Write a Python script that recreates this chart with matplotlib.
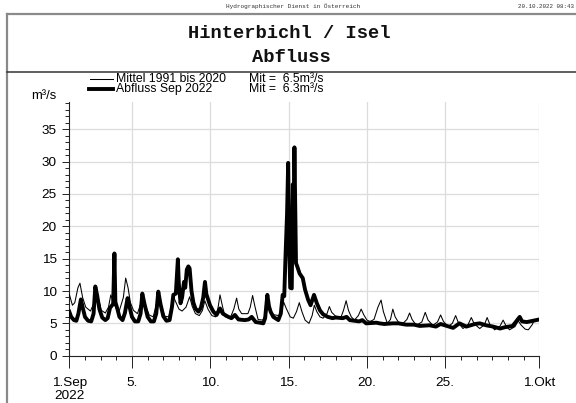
import matplotlib
matplotlib.use("Agg")
import matplotlib.pyplot as plt
from matplotlib.lines import Line2D
from matplotlib.ticker import FixedLocator, MultipleLocator

# ---------------- data (t = days since 1 Sep 2022 00:00) ----------------
mittel_t = [0.0, 0.2, 0.35, 0.55, 0.68, 0.85, 1.05, 1.35, 1.55, 1.7, 1.85, 2.05, 2.3, 2.5,
            2.65, 2.8, 3.0, 3.2, 3.45, 3.6, 3.75, 3.9, 4.1, 4.35, 4.55, 4.68, 4.85, 5.1,
            5.35, 5.55, 5.68, 5.85, 6.1, 6.35, 6.5, 6.65, 6.8, 7.0, 7.2, 7.45, 7.68, 7.85,
            8.05, 8.3, 8.5, 8.65, 8.85, 9.1, 9.35, 9.5, 9.62, 9.78, 9.95, 10.3, 10.5, 10.68,
            10.82, 11.0, 11.4, 11.55, 11.7, 11.85, 12.05, 12.35, 12.55, 12.7, 12.85, 13.1,
            13.4, 13.55, 13.68, 13.85, 14.1, 14.3, 14.5, 14.68, 14.85, 15.05, 15.3, 15.5,
            15.64, 15.8, 16.0, 16.2, 16.45, 16.6, 16.75, 17.0, 17.35, 17.5, 17.67, 17.82,
            18.0, 18.2, 18.45, 18.63, 18.8, 19.0, 19.2, 19.45, 19.7, 19.9, 20.05, 20.3, 20.5,
            20.65, 20.8, 21.0, 21.3, 21.55, 21.72, 21.88, 22.15, 22.5, 22.72, 22.9, 23.2,
            23.5, 23.7, 23.88, 24.17, 24.45, 24.66, 24.85, 25.13, 25.45, 25.66, 25.85, 26.2,
            26.5, 26.67, 26.85, 27.15, 27.5, 27.69, 27.88, 28.1, 28.45, 28.65, 28.85, 29.1,
            29.3, 29.55, 29.7, 30.0]
mittel_q = [9.5, 7.8, 8.2, 10.5, 11.2, 9.0, 7.5, 6.9, 8.0, 9.8, 8.9, 7.0, 6.6, 7.5,
            9.4, 8.3, 7.3, 7.0, 9.0, 12.0, 10.5, 8.2, 7.0, 6.5, 8.0, 9.5, 7.8, 6.3,
            6.0, 7.8, 9.7, 7.8, 6.1, 6.0, 7.5, 9.1, 8.3, 7.2, 6.9, 7.5, 9.1, 7.6,
            6.5, 6.2, 7.0, 8.5, 7.2, 6.2, 6.0, 7.5, 9.4, 7.6, 6.0, 6.0, 7.2, 8.9,
            7.2, 6.5, 6.5, 7.5, 9.3, 7.6, 5.6, 5.5, 6.5, 7.6, 6.6, 6.3,
            6.2, 7.0, 8.3, 7.3, 6.0, 5.8, 6.8, 8.2, 6.8, 5.5, 5.0, 6.2,
            7.8, 6.8, 6.0, 5.8, 6.5, 7.6, 6.7, 6.1, 6.0, 7.0, 8.5, 7.0,
            6.0, 5.5, 6.2, 7.2, 6.3, 5.5, 5.3, 5.6, 7.5, 8.6, 6.8, 5.0, 5.6,
            7.2, 6.0, 5.2, 5.0, 5.6, 6.6, 5.6, 4.7, 5.2, 6.7, 5.5, 4.7,
            5.2, 6.3, 5.3, 4.5, 5.0, 6.2, 5.0, 4.2, 4.8, 5.9, 4.9, 4.2,
            4.8, 5.9, 4.8, 4.0, 4.6, 5.5, 4.6, 4.0, 4.5, 5.4, 4.7, 4.1,
            4.0, 4.8, 5.6, 5.5]

abfluss_t = [0.0, 0.12, 0.3, 0.45, 0.58, 0.74, 0.85, 1.0, 1.2, 1.4, 1.55, 1.66, 1.78, 1.92,
             2.1, 2.3, 2.45, 2.6, 2.8, 2.88, 2.94, 3.05, 3.2, 3.4, 3.55, 3.72, 3.85, 4.0,
             4.19, 4.4, 4.55, 4.66, 4.8, 5.0, 5.2, 5.4, 5.55, 5.68, 5.82, 6.0, 6.2, 6.4,
             6.55, 6.64, 6.8, 6.93, 6.99, 7.1, 7.2, 7.32, 7.4, 7.5, 7.6, 7.68, 7.8, 7.92,
             8.05, 8.24, 8.4, 8.55, 8.66, 8.75, 8.98, 9.2, 9.4, 9.62, 9.8, 10.15, 10.35,
             10.57, 10.8, 11.2, 11.45, 11.64, 11.9, 12.17, 12.38, 12.5, 12.64, 12.75, 12.85,
             13.02, 13.34, 13.5, 13.62, 13.72, 13.8, 13.9, 13.97, 14.03, 14.1, 14.2, 14.27,
             14.31, 14.37, 14.42, 14.47, 14.55, 14.7, 14.9, 15.05, 15.25, 15.4, 15.62, 15.8,
             16.0, 16.2, 16.5, 16.8, 17.0, 17.45, 17.7, 17.9, 18.5, 18.7, 18.95, 19.6, 19.8,
             20.1, 20.65, 21.0, 21.5, 22.0, 22.36, 23.0, 23.4, 23.7, 24.5, 24.9, 25.34,
             25.9, 26.2, 26.6, 27.05, 27.5, 27.8, 28.3, 28.75, 28.9, 29.2, 30.0]
abfluss_q = [6.8, 6.0, 5.5, 5.4, 6.5, 8.7, 7.5, 6.0, 5.4, 5.3, 6.5, 10.7, 9.3, 7.2,
             5.9, 5.5, 5.8, 7.4, 8.0, 15.8, 8.3, 7.4, 6.0, 5.5, 6.6, 8.9, 7.5, 6.0,
             5.3, 5.3, 6.5, 9.6, 8.0, 6.0, 5.3, 5.3, 6.5, 9.9, 8.0, 6.1, 5.4, 5.5,
             7.5, 9.4, 9.6, 14.9, 11.2, 8.1, 9.0, 11.4, 10.5, 13.3, 13.8, 13.5, 10.0, 8.2,
             7.3, 6.8, 7.4, 9.0, 11.4, 9.5, 7.8, 6.8, 6.3, 7.3, 6.5, 6.0, 5.8,
             6.3, 5.6, 5.5, 5.6, 6.0, 5.2, 5.1, 5.0, 5.8, 9.4, 7.6, 6.8,
             6.0, 5.5, 6.5, 9.4, 9.2, 15.3, 22.0, 29.8, 17.9, 10.5, 10.4, 26.5,
             18.0, 32.2, 23.6, 14.3, 13.8, 12.7, 12.0, 10.2, 8.6, 7.8, 9.4, 8.1,
             7.0, 6.4, 6.0, 5.8, 5.9, 5.8, 6.0, 5.5, 5.3, 5.5, 5.0, 5.1, 5.0,
             4.9, 5.0, 5.0, 4.8, 4.8, 4.6, 4.7, 4.5, 4.9, 4.3, 5.0, 4.5,
             4.9, 5.0, 4.7, 4.5, 4.2, 4.4, 4.6, 6.0, 5.3, 5.2, 5.6]

x_tick_pos = [0, 4, 9, 14, 19, 24, 30]
x_tick_labels = ["1.Sep\n2022", "5.", "10.", "15.", "20.", "25.", "1.Okt"]
y_ticks = [0, 5, 10, 15, 20, 25, 30, 35]

# ---------------- figure ----------------
W, H = 576, 403
fig = plt.figure(figsize=(W / 100, H / 100), dpi=100)
SANS = "Liberation Sans"
MONO = "Liberation Mono"


def fx(x):
    return x / W


def fy(y):
    return 1 - y / H


# outer frame
fig.add_artist(Line2D([fx(6.5), fx(6.5)], [fy(14), fy(403)], transform=fig.transFigure,
                      color="#8a8a8a", lw=1.6))
fig.add_artist(Line2D([fx(6.5), fx(580)], [fy(14), fy(14)], transform=fig.transFigure,
                      color="#8a8a8a", lw=1.6))
fig.add_artist(Line2D([fx(6.5), fx(580)], [fy(71.5), fy(71.5)], transform=fig.transFigure,
                      color="#333333", lw=1.1))

# header texts
fig.text(fx(293), fy(6), "Hydrographischer Dienst in Österreich", family=MONO,
         fontsize=4.4, ha="center", va="center", color="#333333")
fig.text(fx(574), fy(6), "20.10.2022 08:43", family=MONO, fontsize=4.2,
         ha="right", va="center", color="#333333")

# titles
fig.text(fx(289), fy(34), "Hinterbichl / Isel", family=MONO, fontweight="bold",
         fontsize=13.5, ha="center", va="center", color="#111111")
fig.text(fx(291), fy(57.5), "Abfluss", family=MONO, fontweight="bold",
         fontsize=13.5, ha="center", va="center", color="#111111")

# legend
fig.add_artist(Line2D([fx(90), fx(113)], [fy(79), fy(79)], transform=fig.transFigure,
                      color="black", lw=0.75))
fig.add_artist(Line2D([fx(89), fx(113)], [fy(88.5), fy(88.5)], transform=fig.transFigure,
                      color="black", lw=2.8))
fig.text(fx(116.5), fy(78.5), "Mittel 1991 bis 2020", family=SANS, fontsize=8.8,
         ha="left", va="center")
fig.text(fx(116.5), fy(89), "Abfluss Sep 2022", family=SANS, fontsize=8.8,
         ha="left", va="center")
fig.text(fx(249), fy(78.5), "Mit =  6.5m³/s", family=SANS, fontsize=8.8,
         ha="left", va="center")
fig.text(fx(249), fy(89), "Mit =  6.3m³/s", family=SANS, fontsize=8.8,
         ha="left", va="center")
fig.text(fx(31.5), fy(96), "m³/s", family=SANS, fontsize=9.4, ha="left", va="center")

# axes
x0, x1 = 69.3, 539.3
ybot = 355.7
ytop_val = 39.2
px_per_unit = 6.47
ytop = ybot - ytop_val * px_per_unit
ax = fig.add_axes([fx(x0), fy(ybot), (x1 - x0) / W, (ybot - ytop) / H])
ax.set_xlim(0, 30)
ax.set_ylim(0, ytop_val)

for sp in ("top", "right"):
    ax.spines[sp].set_visible(False)
for sp in ("left", "bottom"):
    ax.spines[sp].set_linewidth(0.8)
    ax.spines[sp].set_color("#222222")

ax.xaxis.set_major_locator(FixedLocator(x_tick_pos))
ax.set_xticklabels(x_tick_labels)
ax.xaxis.set_minor_locator(MultipleLocator(1))
ax.yaxis.set_major_locator(FixedLocator(y_ticks))
ax.yaxis.set_minor_locator(MultipleLocator(1))

ax.tick_params(axis="x", which="major", length=8.6, width=0.7, pad=6.5, labelsize=9.7,
               color="#222222")
ax.tick_params(axis="x", which="minor", length=3, width=0.7, color="#222222")
ax.tick_params(axis="y", which="major", length=5, width=0.7, pad=4, labelsize=9.7,
               color="#222222")
ax.tick_params(axis="y", which="minor", length=3, width=0.7, color="#222222")
for lab in ax.get_xticklabels() + ax.get_yticklabels():
    lab.set_family(SANS)
for lab in ax.get_xticklabels():
    lab.set_multialignment("center")

# grid
for xv in x_tick_pos[1:]:
    ax.axvline(xv, color="#dcdcdc", lw=0.9, zorder=0)
for yv in y_ticks[1:]:
    ax.axhline(yv, color="#dcdcdc", lw=0.9, zorder=0)

ax.plot(mittel_t, mittel_q, color="black", lw=0.75, zorder=3)
ax.plot(abfluss_t, abfluss_q, color="black", lw=2.8, zorder=4)

fig.savefig("out.png", dpi=100)
